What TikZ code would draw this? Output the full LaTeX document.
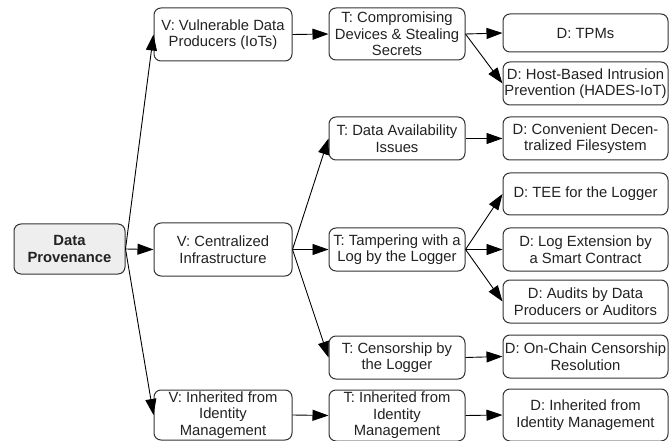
\documentclass[tikz,border=0pt]{standalone}
\usepackage{fontspec}
\setmainfont{Liberation Sans}
\usetikzlibrary{arrows.meta}
\definecolor{txt}{HTML}{222222}
\definecolor{edge}{HTML}{333333}
\definecolor{dpfill}{HTML}{EEEEEE}
\tikzset{
  box/.style={draw=edge, line width=1pt, rounded corners=7pt, fill=white, inner sep=0pt, align=center, text=txt, font=\fontsize{14.8}{16.5}\selectfont},
  vbox/.style={box, minimum width=138pt},
  tbox/.style={box, minimum width=136pt},
  dbox/.style={box, minimum width=165pt},
  conn/.style={draw=black, line width=0.9pt, -{Triangle[length=16pt,width=11pt]}}
}
\begin{document}
\begin{tikzpicture}[x=1pt,y=-1pt]
\useasboundingbox (0,0) rectangle (670,441);
\node[box, fill=dpfill, minimum width=111pt, minimum height=50pt, font=\fontsize{14.8}{16.5}\selectfont\bfseries] (dp) at (69.5,249) {Data\\Provenance};
\node[vbox, minimum height=53pt] (v1) at (223,34.5) {V: Vulnerable Data\\Producers (IoTs)};
\node[vbox, minimum height=53pt] (v2) at (223,249.5) {V: Centralized\\Infrastructure};
\node[vbox, minimum height=50pt] (v3) at (223,415) {V: Inherited from\\Identity\\Management};
\node[tbox, minimum height=52pt] (t1) at (397,34) {T: Compromising\\Devices \& Stealing\\Secrets};
\node[tbox, minimum height=43pt] (t2) at (397,138.5) {T: Data Availability\\Issues};
\node[tbox, minimum height=43pt] (t3) at (397,249.5) {T: Tampering with a\\Log by the Logger};
\node[tbox, minimum height=43pt] (t4) at (397,357.5) {T: Censorship by\\the Logger};
\node[tbox, minimum height=51pt] (t5) at (397,415.5) {T: Inherited from\\Identity\\Management};
\node[dbox, minimum height=38pt] (d1) at (585.5,33) {D: TPMs};
\node[dbox, minimum height=43pt] (d2) at (585.5,83.5) {D: Host-Based Intrusion\\Prevention (HADES-IoT)};
\node[dbox, minimum height=43pt] (d3) at (585.5,138.5) {D: Convenient Decen-\\tralized Filesystem};
\node[dbox, minimum height=42pt] (d4) at (585.5,194) {D: TEE for the Logger};
\node[dbox, minimum height=43pt] (d5) at (585.5,249.5) {D: Log Extension by\\a Smart Contract};
\node[dbox, minimum height=43pt] (d6) at (585.5,301.5) {D: Audits by Data\\Producers or Auditors};
\node[dbox, minimum height=43pt] (d7) at (585.5,356.5) {D: On-Chain Censorship\\Resolution};
\node[dbox, minimum height=52pt] (d8) at (585.5,415) {D: Inherited from\\Identity Management};
\draw[conn] (dp.east) -- (v1.west);
\draw[conn] (dp.east) -- (v2.west);
\draw[conn] (dp.east) -- (v3.west);
\draw[conn] (v1.east) -- (t1.west);
\draw[conn] (v2.east) -- (t2.west);
\draw[conn] (v2.east) -- (t3.west);
\draw[conn] (v2.east) -- (t4.west);
\draw[conn] (v3.east) -- (t5.west);
\draw[conn] (t1.east) -- (d1.west);
\draw[conn] (t1.east) -- (d2.west);
\draw[conn] (t2.east) -- (d3.west);
\draw[conn] (t3.east) -- (d4.west);
\draw[conn] (t3.east) -- (d5.west);
\draw[conn] (t3.east) -- (d6.west);
\draw[conn] (t4.east) -- (d7.west);
\draw[conn] (t5.east) -- (d8.west);
\end{tikzpicture}
\end{document}
